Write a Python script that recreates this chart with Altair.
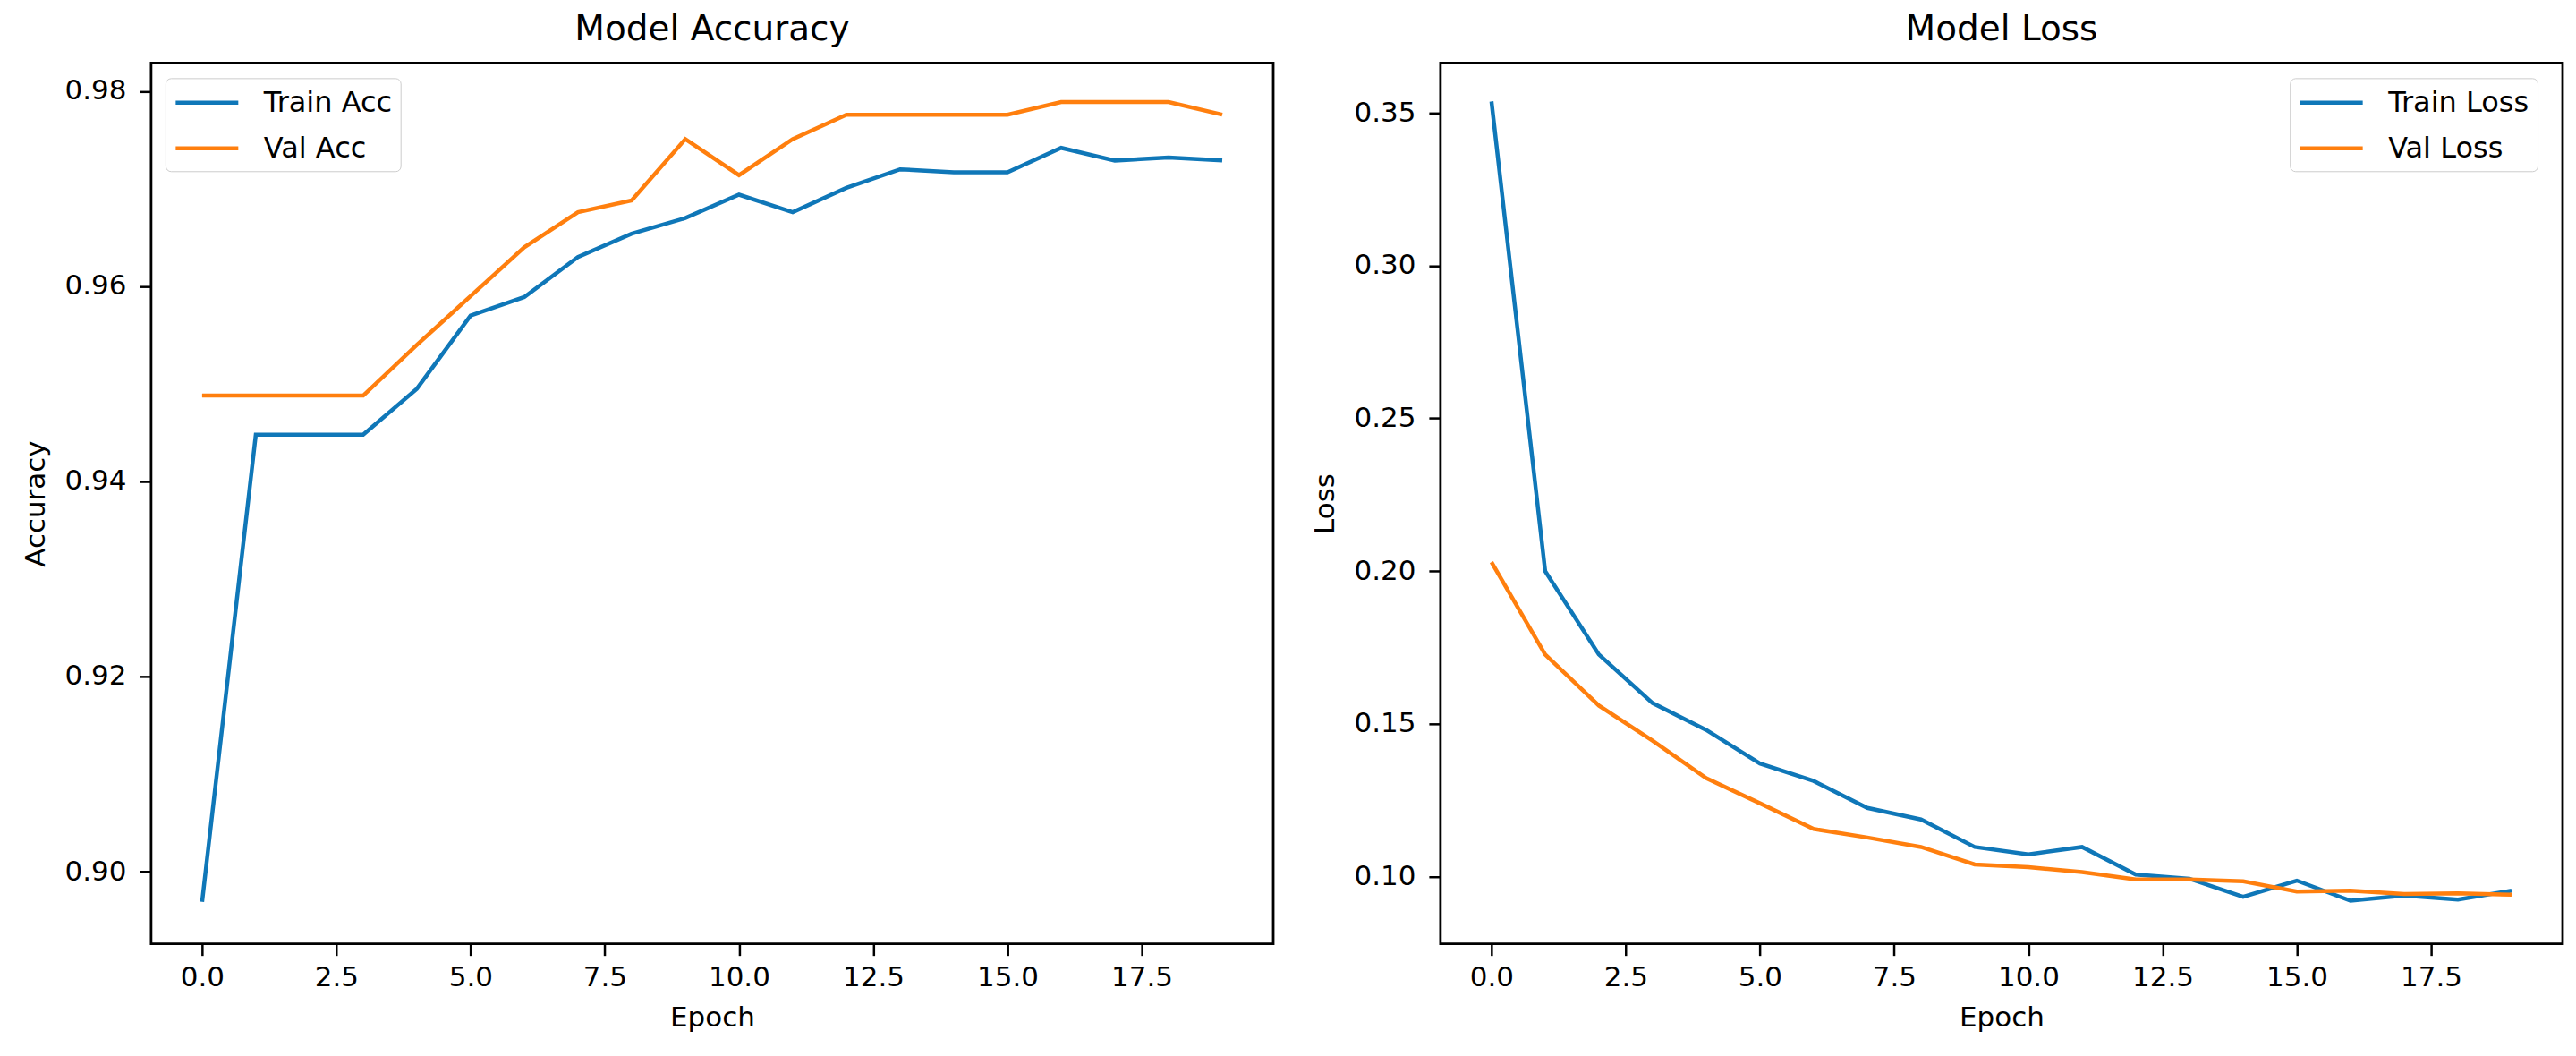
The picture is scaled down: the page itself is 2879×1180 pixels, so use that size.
import altair as alt
import pandas as pd

epochs = list(range(20))

train_acc = [0.8969, 0.9448, 0.9448, 0.9448, 0.9495, 0.9570, 0.9589, 0.9630, 0.9654, 0.9670,
             0.9694, 0.9676, 0.9701, 0.9720, 0.9717, 0.9717, 0.9742, 0.9729, 0.9732, 0.9729]
val_acc = [0.9488, 0.9488, 0.9488, 0.9488, 0.9540, 0.9590, 0.9640, 0.9676, 0.9688, 0.9751,
           0.9714, 0.9751, 0.9776, 0.9776, 0.9776, 0.9776, 0.9789, 0.9789, 0.9789, 0.9776]
train_loss = [0.3537, 0.2000, 0.1727, 0.1568, 0.1480, 0.1370, 0.1313, 0.1225, 0.1187, 0.1097,
              0.1073, 0.1097, 0.1007, 0.0993, 0.0934, 0.0987, 0.0921, 0.0938, 0.0925, 0.0954]
val_loss = [0.2029, 0.1727, 0.1560, 0.1445, 0.1322, 0.1240, 0.1156, 0.1128, 0.1097, 0.1040,
            0.1031, 0.1015, 0.0991, 0.0991, 0.0985, 0.0951, 0.0954, 0.0943, 0.0945, 0.0941]

acc_names = ["Train Acc", "Val Acc"]
loss_names = ["Train Loss", "Val Loss"]
colors = ["#0f77b8", "#ff7f0e"]

x_ticks = [0, 2.5, 5, 7.5, 10, 12.5, 15, 17.5]
acc_ticks = [0.90, 0.92, 0.94, 0.96, 0.98]
loss_ticks = [0.10, 0.15, 0.20, 0.25, 0.30, 0.35]

FONT = "DejaVu Sans"

acc_df = pd.DataFrame({
    "Epoch": epochs + epochs,
    "value": train_acc + val_acc,
    "series": [acc_names[0]] * 20 + [acc_names[1]] * 20,
})
loss_df = pd.DataFrame({
    "Epoch": epochs + epochs,
    "value": train_loss + val_loss,
    "series": [loss_names[0]] * 20 + [loss_names[1]] * 20,
})


def x_axis():
    return alt.Axis(values=x_ticks, format=".1f", title="Epoch")


def legend(lx, ly):
    return alt.Legend(
        orient="none", legendX=lx, legendY=ly, title=None,
        symbolType="M-1,0L3.375,0", symbolSize=1024, symbolStrokeWidth=4.5,
        labelFontSize=32, labelFont=FONT, labelColor="black", labelOffset=64,
        padding=9, rowPadding=16, strokeColor="#cccccc", fillColor="white",
        cornerRadius=6,
    )


def panel(df, names, title, ytitle, yticks, ydomain, lx, ly):
    return alt.Chart(df).mark_line(strokeWidth=4.5).encode(
        x=alt.X("Epoch:Q", scale=alt.Scale(domain=[-0.95, 19.95], nice=False, zero=False), axis=x_axis()),
        y=alt.Y("value:Q", scale=alt.Scale(domain=ydomain, nice=False, zero=False),
                axis=alt.Axis(values=yticks, format=".2f", title=ytitle)),
        color=alt.Color("series:N", scale=alt.Scale(domain=names, range=colors), legend=legend(lx, ly)),
    ).properties(
        width=1255, height=985,
        title=alt.TitleParams(title, fontSize=39, fontWeight="normal", font=FONT, color="black",
                              anchor="middle", offset=17),
    )


left = panel(acc_df, acc_names, "Model Accuracy", "Accuracy", acc_ticks, [0.8926, 0.9829], 16, 17)
right = panel(loss_df, loss_names, "Model Loss", "Loss", loss_ticks, [0.078, 0.3663], 950, 17)

chart = alt.hconcat(left, right, spacing=39).resolve_scale(color="independent").properties(
    padding={"left": 15, "top": 4, "right": 5, "bottom": 5},
    background="white",
).configure_view(
    stroke="black", strokeWidth=2.8,
).configure_axis(
    grid=False, domain=False, tickColor="black", tickWidth=2.5, tickSize=13,
    labelFont=FONT, labelFontSize=31, labelColor="black",
    titleFont=FONT, titleFontSize=31, titleColor="black", titleFontWeight="normal",
).configure_axisX(
    labelPadding=10, titlePadding=15,
).configure_axisY(
    labelPadding=15, titlePadding=15,
)

chart.save("out.html", embed_options={"renderer": "svg", "actions": False})
